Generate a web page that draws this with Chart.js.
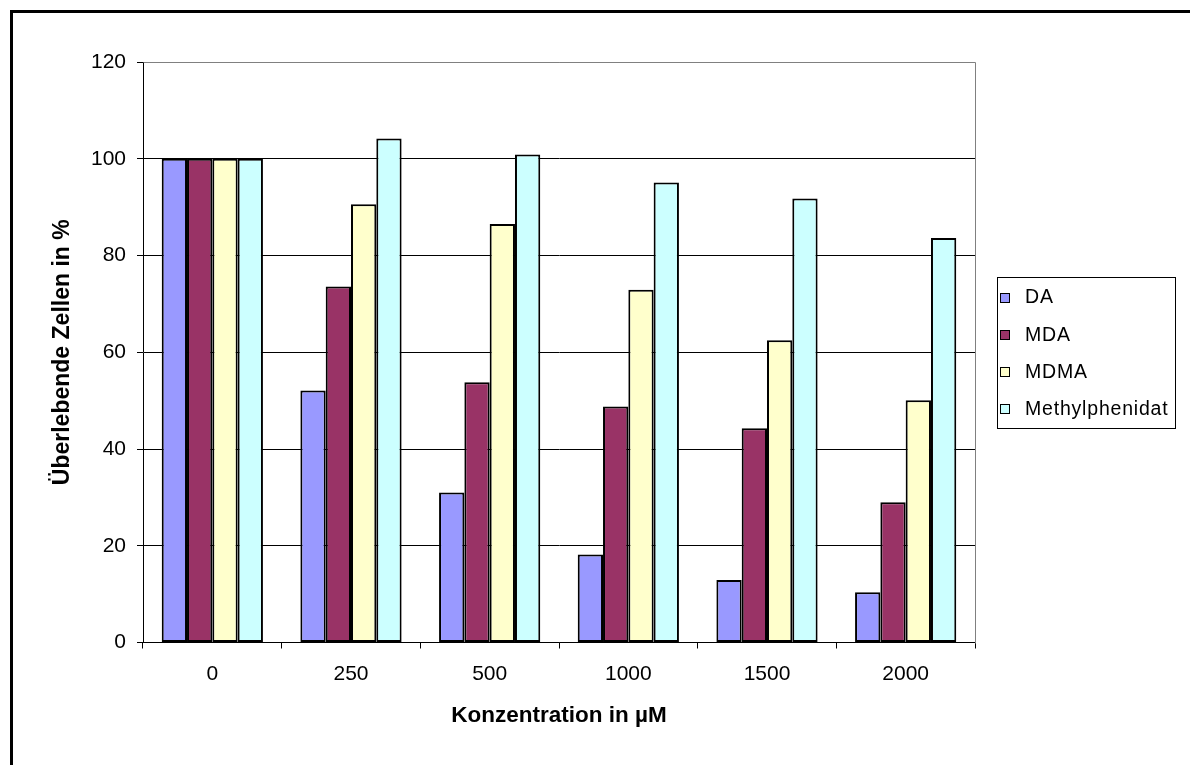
<!DOCTYPE html>
<html>
<head>
<meta charset="utf-8">
<script src="https://cdn.jsdelivr.net/npm/chart.js@4/dist/chart.umd.min.js"></script>
<style>
  html, body { margin: 0; padding: 0; background: #ffffff; }
  canvas { display: block; }
</style>
</head>
<body>
<canvas id="chart" width="1190" height="765"></canvas>
<script>
// Konzentrationen (µM) und überlebende Zellen in % je Substanz
const concentrations = ['0', '250', '500', '1000', '1500', '2000'];
const daValues = [100, 52.1, 31.0, 18.2, 12.9, 10.4];
const mdaValues = [100, 73.6, 53.8, 48.8, 44.3, 29.0];
const mdmaValues = [100, 90.6, 86.5, 72.9, 62.5, 50.1];
const methylphenidatValues = [100, 104.2, 100.9, 95.1, 91.8, 83.6];
const seriesNames = ['DA', 'MDA', 'MDMA', 'Methylphenidat'];
const seriesColors = ['#9999FF', '#993366', '#FFFFCC', '#CCFFFF'];
const yMin = 0, yMax = 120, yStep = 20;

const FONT = "'Liberation Sans', Arial, Helvetica, sans-serif";

// Outer frame of the chart object (top and left edges)
const framePlugin = {
  id: 'outerFrame',
  beforeDraw(chart) {
    const ctx = chart.ctx;
    ctx.save();
    ctx.fillStyle = '#ffffff';
    ctx.fillRect(0, 0, chart.width, chart.height);
    ctx.fillStyle = '#000000';
    ctx.fillRect(10, 10, 3, chart.height - 10);
    ctx.fillRect(10, 10, chart.width - 10, 3);
    ctx.restore();
  }
};

// Gray border around the plot area
const plotBorderPlugin = {
  id: 'plotBorder',
  beforeDatasetsDraw(chart) {
    const a = chart.chartArea;
    const ctx = chart.ctx;
    ctx.save();
    ctx.strokeStyle = '#808080';
    ctx.lineWidth = 1;
    ctx.beginPath();
    ctx.moveTo(Math.round(a.left) + 0.5, Math.round(a.top) + 0.5);
    ctx.lineTo(Math.round(a.right) + 0.5, Math.round(a.top) + 0.5);
    ctx.lineTo(Math.round(a.right) + 0.5, Math.round(a.bottom) + 0.5);
    ctx.stroke();
    ctx.restore();
  }
};

// Boxed legend to the right of the plot area
const boxLegendPlugin = {
  id: 'boxLegend',
  afterDraw(chart) {
    const ctx = chart.ctx;
    const box = { x: 997, y: 277, w: 178, h: 151 };
    ctx.save();
    ctx.fillStyle = '#ffffff';
    ctx.fillRect(box.x, box.y, box.w, box.h);
    ctx.strokeStyle = '#000000';
    ctx.lineWidth = 1;
    ctx.strokeRect(box.x + 0.5, box.y + 0.5, box.w, box.h);
    const rowH = 37.3;
    const firstY = 297;
    ctx.font = '19.5px ' + FONT;
    if ('letterSpacing' in ctx) ctx.letterSpacing = '0.8px';
    ctx.textBaseline = 'middle';
    ctx.textAlign = 'left';
    chart.data.datasets.forEach((ds, i) => {
      const cy = firstY + i * rowH;
      ctx.fillStyle = ds.backgroundColor;
      ctx.fillRect(1000.5, Math.round(cy - 4.5) + 0.5, 9, 9);
      ctx.strokeStyle = '#000000';
      ctx.lineWidth = 1;
      ctx.strokeRect(1000.5, Math.round(cy - 4.5) + 0.5, 9, 9);
      ctx.fillStyle = '#000000';
      ctx.fillText(ds.label, 1025, cy + 1);
    });
    ctx.restore();
  }
};

const valueSets = [daValues, mdaValues, mdmaValues, methylphenidatValues];

new Chart(document.getElementById('chart'), {
  type: 'bar',
  data: {
    labels: concentrations,
    datasets: valueSets.map((vals, i) => ({
      label: seriesNames[i],
      data: vals,
      backgroundColor: seriesColors[i],
      borderColor: '#000000',
      borderWidth: 2,
      borderSkipped: false,
      categoryPercentage: 0.73,
      barPercentage: 1.0
    }))
  },
  options: {
    responsive: false,
    animation: false,
    devicePixelRatio: 1,
    layout: { padding: { left: 0, top: 62, right: 215, bottom: 22.5 } },
    plugins: {
      legend: { display: false },
      tooltip: { enabled: false },
      title: { display: false }
    },
    scales: {
      x: {
        offset: true,
        grid: {
          display: true,
          offset: true,
          drawOnChartArea: false,
          drawTicks: true,
          tickLength: 6,
          tickColor: '#000000',
          color: '#000000'
        },
        border: { display: true, color: '#000000', width: 1 },
        ticks: {
          color: '#000000',
          font: { family: FONT, size: 21 },
          padding: 13,
          maxRotation: 0,
          autoSkip: false
        },
        title: {
          display: true,
          text: 'Konzentration in µM',
          color: '#000000',
          font: { family: FONT, size: 22.5, weight: 'bold' },
          padding: { top: 0, bottom: 13 }
        },
        afterFit(scale) { scale.height = 100; }
      },
      y: {
        min: yMin,
        max: yMax,
        ticks: {
          stepSize: yStep,
          color: '#000000',
          font: { family: FONT, size: 21 },
          padding: 11
        },
        grid: {
          color: (c) => (c.tick && c.tick.value === yMax ? '#808080' : '#000000'),
          lineWidth: 1,
          drawTicks: true,
          tickLength: 6,
          tickColor: '#000000'
        },
        border: { display: true, color: '#000000', width: 1 },
        title: {
          display: true,
          text: 'Überlebende Zellen in %',
          color: '#000000',
          font: { family: FONT, size: 23, weight: 'bold' },
          padding: { top: 49, bottom: 0 }
        },
        afterFit(scale) { scale.width = 143; }
      }
    }
  },
  plugins: [framePlugin, plotBorderPlugin, boxLegendPlugin]
});
</script>
</body>
</html>
